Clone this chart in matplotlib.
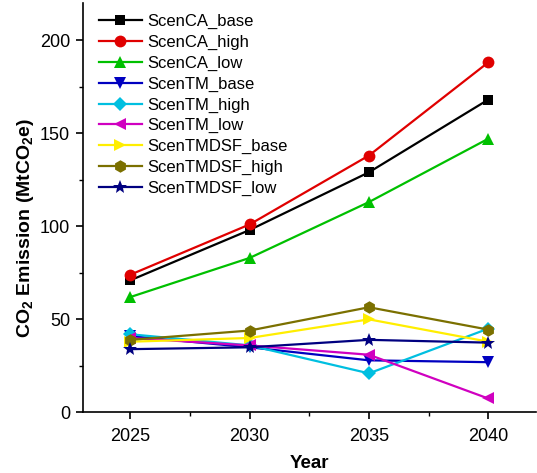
import matplotlib
matplotlib.use('Agg')
import matplotlib.pyplot as plt

plt.rcParams['font.family'] = ['Liberation Sans', 'DejaVu Sans']
plt.rcParams['mathtext.fontset'] = 'custom'
plt.rcParams['mathtext.rm'] = 'Liberation Sans:bold'
plt.rcParams['mathtext.default'] = 'rm'

years = [2025, 2030, 2035, 2040]

scen_ca_base = [71, 98, 129, 168]
scen_ca_high = [74, 101, 138, 188]
scen_ca_low = [62, 83, 113, 147]
scen_tm_base = [41, 35, 28, 27]
scen_tm_high = [42, 36, 21, 45]
scen_tm_low = [40, 36, 31, 7.5]
scen_tmdsf_base = [38, 40, 50, 38]
scen_tmdsf_high = [39, 44, 56.5, 44.5]
scen_tmdsf_low = [34, 35, 39, 37.5]

series = [
    ('ScenCA_base', scen_ca_base, 's', '#000000', 7.5),
    ('ScenCA_high', scen_ca_high, 'o', '#e00000', 8.5),
    ('ScenCA_low', scen_ca_low, '^', '#00c000', 9),
    ('ScenTM_base', scen_tm_base, 'v', '#0000c0', 9),
    ('ScenTM_high', scen_tm_high, 'D', '#00bfe0', 7.5),
    ('ScenTM_low', scen_tm_low, '<', '#d000c0', 9),
    ('ScenTMDSF_base', scen_tmdsf_base, '>', '#ffee00', 9),
    ('ScenTMDSF_high', scen_tmdsf_high, 'h', '#7b7000', 9),
    ('ScenTMDSF_low', scen_tmdsf_low, '*', '#000080', 10),
]

fig = plt.figure(figsize=(5.37, 4.73), dpi=100)
ax = fig.add_axes([0.154, 0.128, 0.844, 0.866])

for name, vals, mk, col, ms in series:
    ax.plot(years, vals, marker=mk, color=col, label=name, lw=1.6,
            markersize=ms, markeredgewidth=0)

ax.set_xlim(2023, 2042)
ax.set_ylim(0, 220)
ax.set_xticks(years)
ax.set_xticks([2027.5, 2032.5, 2037.5], minor=True)
ax.set_yticks([0, 50, 100, 150, 200])
ax.set_yticks([25, 75, 125, 175], minor=True)

for s in ['top', 'right']:
    ax.spines[s].set_visible(False)
for s in ['left', 'bottom']:
    ax.spines[s].set_linewidth(1.2)

ax.tick_params(which='major', direction='out', length=5, width=1.2, labelsize=13)
ax.tick_params(axis='x', which='major', pad=6)
ax.tick_params(axis='y', which='major', pad=4)
ax.tick_params(which='minor', direction='out', length=3, width=1.0)

ax.set_xlabel('Year', fontsize=13.5, fontweight='bold')
ax.set_ylabel('CO$_2$ Emission (MtCO$_2$e)', fontsize=14, fontweight='bold')
ax.xaxis.set_label_coords(0.5, -0.105)
ax.yaxis.set_label_coords(-0.104, 0.451)

ax.legend(loc='upper left', bbox_to_anchor=(0.165, 0.991), bbox_transform=fig.transFigure,
          frameon=False, fontsize=12, handlelength=2.6, handletextpad=0.3,
          labelspacing=0.34, borderaxespad=0.2)

fig.savefig('out.png', dpi=100)
